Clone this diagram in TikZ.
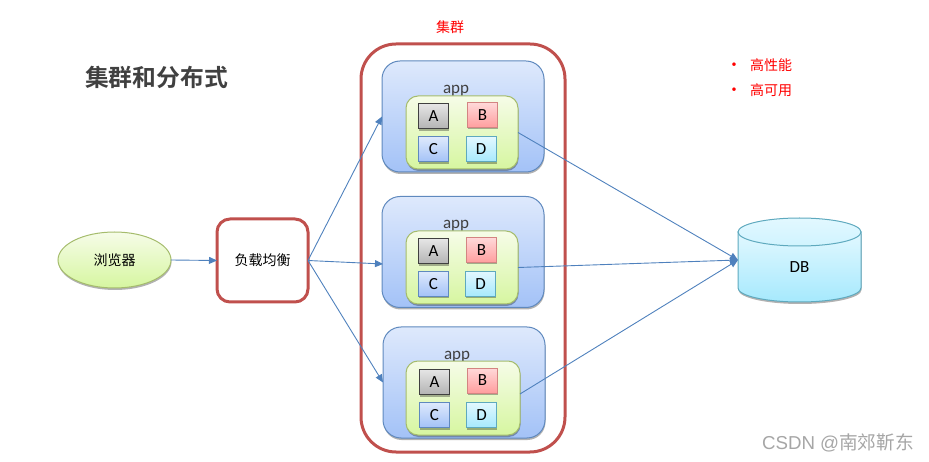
\documentclass[tikz,border=0pt]{standalone}
\usepackage{fontspec}
\usepackage{xcolor}
\usepackage{tikz}
\usetikzlibrary{arrows.meta,shapes.geometric,shadows}
\setmainfont{Carlito}
\newfontfamily\cjk{Noto Sans CJK SC}
\newfontfamily\cjkbold{Noto Sans CJK SC Bold}
\newfontfamily\wmark{Liberation Sans}
\definecolor{redline}{RGB}{192,80,77}
\definecolor{blueline}{RGB}{79,129,189}
\definecolor{appline}{RGB}{95,137,190}
\definecolor{appup}{RGB}{222,233,252}
\definecolor{appdown}{RGB}{163,194,247}
\definecolor{greenline}{RGB}{165,188,108}
\definecolor{greenup}{RGB}{246,252,232}
\definecolor{greendown}{RGB}{214,246,160}
\definecolor{skyline}{RGB}{94,169,190}
\definecolor{skyup}{RGB}{226,248,255}
\definecolor{skydown}{RGB}{166,233,253}
\definecolor{titlegray}{RGB}{64,64,64}

\begin{document}
\begin{tikzpicture}[x=1pt,y=-1pt,
  every node/.style={inner sep=0pt,outer sep=0pt,text=black},
  softshadow/.style={drop shadow={shadow xshift=0.5pt,shadow yshift=-2pt,opacity=0.3,fill=black}},
  cjktext/.style={font=\fontsize{14}{16}\selectfont\cjk},
  cluster/.style={draw=redline,line width=3pt,rounded corners=35pt,minimum width=204pt,minimum height=408pt},
  appbox/.style={draw=appline,line width=1pt,rounded corners=18pt,top color=appup,bottom color=appdown,
                 minimum width=162pt,minimum height=111pt,softshadow},
  pkgbox/.style={draw=greenline,line width=1pt,rounded corners=12pt,top color=greenup,bottom color=greendown,
                 minimum width=112pt,minimum height=73pt,softshadow},
  cell/.style={line width=1pt,minimum width=30pt,minimum height=25pt,softshadow,font=\fontsize{17}{19}\selectfont},
  cella/.style={cell,draw=black!75,top color=black!10,bottom color=black!30},
  cellb/.style={cell,draw=redline!70,top color=red!15,bottom color=red!38},
  cellc/.style={cell,draw=appline,top color=appup,bottom color=appdown},
  celld/.style={cell,draw=skyline,top color=skyup,bottom color=skydown},
  applbl/.style={font=\fontsize{17}{19}\selectfont,text=black!75},
  arrow/.style={-{Triangle[length=8pt,width=7pt]},line width=0.9pt,blueline},
  ]

  \useasboundingbox (0,0) rectangle (929,462);

  %─── Title and notes ───────────────────────────────
  \node[font=\fontsize{23.8}{26}\selectfont\cjkbold,text=titlegray] (title) at (156.5,77) {集群和分布式};
  \node[cjktext,text=red] (clusterlbl) at (450,27) {集群};
  \node[text=red,font=\fontsize{10}{12}\selectfont] (dotone) at (734,65) {•};
  \node[cjktext,text=red] (noteone) at (771,65) {高性能};
  \node[text=red,font=\fontsize{10}{12}\selectfont] (dottwo) at (734,90) {•};
  \node[cjktext,text=red] (notetwo) at (771,90) {高可用};

  %─── Cluster frame ─────────────────────────────────
  \node[cluster] (cluster) at (463,248) {};

  %─── Browser and load balancer ─────────────────────
  \node[ellipse,draw=greenline,line width=1pt,top color=greenup,bottom color=greendown,
        minimum width=113pt,minimum height=56pt,softshadow,cjktext] (browser) at (114.5,260) {浏览器};
  \node[draw=redline,line width=3pt,rounded corners=13pt,minimum width=91pt,minimum height=83pt,
        fill=white,cjktext] (balancer) at (262.5,260.5) {负载均衡};

  %─── App 1 ─────────────────────────────────────────
  \node[appbox] (appone) at (463,116.5) {};
  \node[applbl] (lblone) at (456,91) {app};
  \node[pkgbox] (pkgone) at (462,132.5) {};
  \node[cella] (aone) at (433.5,116.5) {A};
  \node[cellb] (bone) at (482.5,115) {B};
  \node[cellc] (cone) at (433.5,149.5) {C};
  \node[celld] (done) at (481,149.5) {D};

  %─── App 2 ─────────────────────────────────────────
  \node[appbox] (apptwo) at (463,252) {};
  \node[applbl] (lbltwo) at (456,226) {app};
  \node[pkgbox] (pkgtwo) at (462,267.5) {};
  \node[cella] (atwo) at (433.5,251.5) {A};
  \node[cellb] (btwo) at (481.5,250) {B};
  \node[cellc] (ctwo) at (433.5,284) {C};
  \node[celld] (dtwo) at (480.5,284) {D};

  %─── App 3 ─────────────────────────────────────────
  \node[appbox] (appthree) at (464,382.5) {};
  \node[applbl] (lblthree) at (457,357) {app};
  \node[pkgbox,minimum width=114pt,minimum height=74pt] (pkgthree) at (463,398) {};
  \node[cella] (athree) at (434.5,382) {A};
  \node[cellb] (bthree) at (482.5,380.5) {B};
  \node[cellc] (cthree) at (434.5,415) {C};
  \node[celld] (dthree) at (481.5,415) {D};

  %─── DB ────────────────────────────────────────────
  \draw[draw=skyline,line width=1pt,top color=skyup,bottom color=skydown,softshadow]
    (738,232) -- (738,288) arc[start angle=180,end angle=360,x radius=61.5pt,y radius=14pt]
    -- (861,232) -- cycle;
  \draw[draw=skyline,line width=1pt,top color=skyup,bottom color=skyup!70!skydown]
    (799.5,232) ellipse (61.5pt and 14pt);
  \node[minimum width=123pt,minimum height=84pt] (db) at (799.5,260) {};
  \node[font=\fontsize{17}{19}\selectfont] (dblbl) at (799.5,267) {DB};

  %─── Connectors ────────────────────────────────────
  \draw[arrow] (browser.east) -- (balancer.west);
  \draw[arrow] (balancer.east) -- (appone.west);
  \draw[arrow] (balancer.east) -- ([xshift=1pt,yshift=-12pt]apptwo.west);
  \draw[arrow] (balancer.east) -- (appthree.west);
  \draw[arrow] (pkgone.east) -- (db.west);
  \draw[arrow] (pkgtwo.east) -- (db.west);
  \draw[arrow] ([yshift=4pt]pkgthree.east) -- (db.west);

  %─── Watermark ─────────────────────────────────────
  \node[font=\fontsize{18.7}{21}\selectfont\wmark,text=black!35] (mark) at (838,443)
    {CSDN @{\cjk 南郊靳东}};

\end{tikzpicture}
\end{document}
